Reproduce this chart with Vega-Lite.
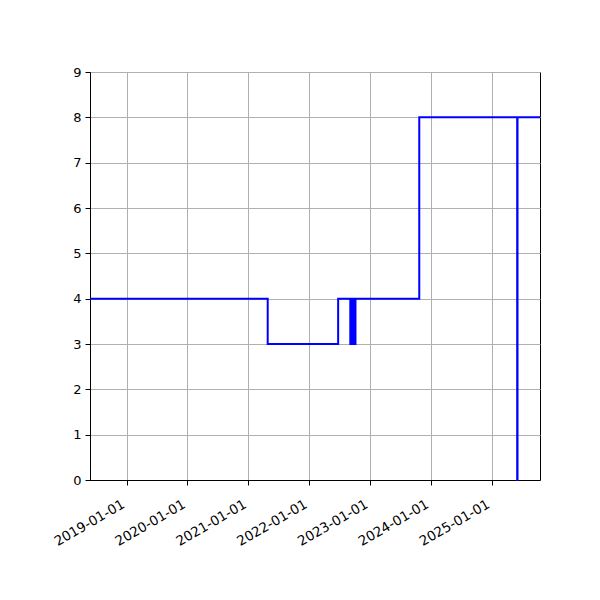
{
  "$schema": "https://vega.github.io/schema/vega-lite/v6.json",
  "width": 450,
  "height": 408,
  "autosize": {"type": "none"},
  "padding": {"left": 90, "top": 72, "right": 60, "bottom": 120},
  "background": "white",
  "config": {
    "font": "DejaVu Sans",
    "view": {"stroke": "black", "strokeWidth": 1}
  },
  "data": {
    "values": [
      {"date": "2018-05-26", "value": 4},
      {"date": "2021-04-27", "value": 3},
      {"date": "2022-06-24", "value": 4},
      {"date": "2022-09-05", "value": 3},
      {"date": "2022-09-07", "value": 4},
      {"date": "2022-09-12", "value": 3},
      {"date": "2022-09-14", "value": 4},
      {"date": "2022-09-20", "value": 3},
      {"date": "2022-09-22", "value": 4},
      {"date": "2022-09-28", "value": 3},
      {"date": "2022-09-30", "value": 4},
      {"date": "2022-10-04", "value": 3},
      {"date": "2022-10-06", "value": 4},
      {"date": "2023-10-24", "value": 8},
      {"date": "2025-06-03", "value": 0},
      {"date": "2025-06-05", "value": 8},
      {"date": "2025-10-18", "value": 8}
    ]
  },
  "mark": {"type": "line", "interpolate": "step-after", "color": "blue", "strokeWidth": 2},
  "encoding": {
    "x": {
      "field": "date",
      "type": "temporal",
      "scale": {"nice": false, "padding": 0},
      "axis": {
        "title": null,
        "format": "%Y-%m-%d",
        "values": ["2019-01-01", "2020-01-01", "2021-01-01", "2022-01-01", "2023-01-01", "2024-01-01", "2025-01-01"],
        "labelAngle": -30,
        "labelAlign": "right",
        "labelBaseline": "top",
        "labelFontSize": 13.5,
        "labelColor": "black",
        "labelPadding": 12,
        "labelOffset": -7,
        "labelOverlap": false,
        "labelFlush": false,
        "tickColor": "black",
        "tickSize": 5,
        "domainColor": "black",
        "grid": true,
        "gridColor": "#b0b0b0",
        "gridWidth": 1
      }
    },
    "y": {
      "field": "value",
      "type": "quantitative",
      "scale": {"domain": [0, 9], "nice": false},
      "axis": {
        "title": null,
        "values": [0, 1, 2, 3, 4, 5, 6, 7, 8, 9],
        "labelFontSize": 13,
        "labelColor": "black",
        "labelPadding": 4,
        "tickColor": "black",
        "tickSize": 5,
        "domainColor": "black",
        "grid": true,
        "gridColor": "#b0b0b0",
        "gridWidth": 1
      }
    }
  }
}
